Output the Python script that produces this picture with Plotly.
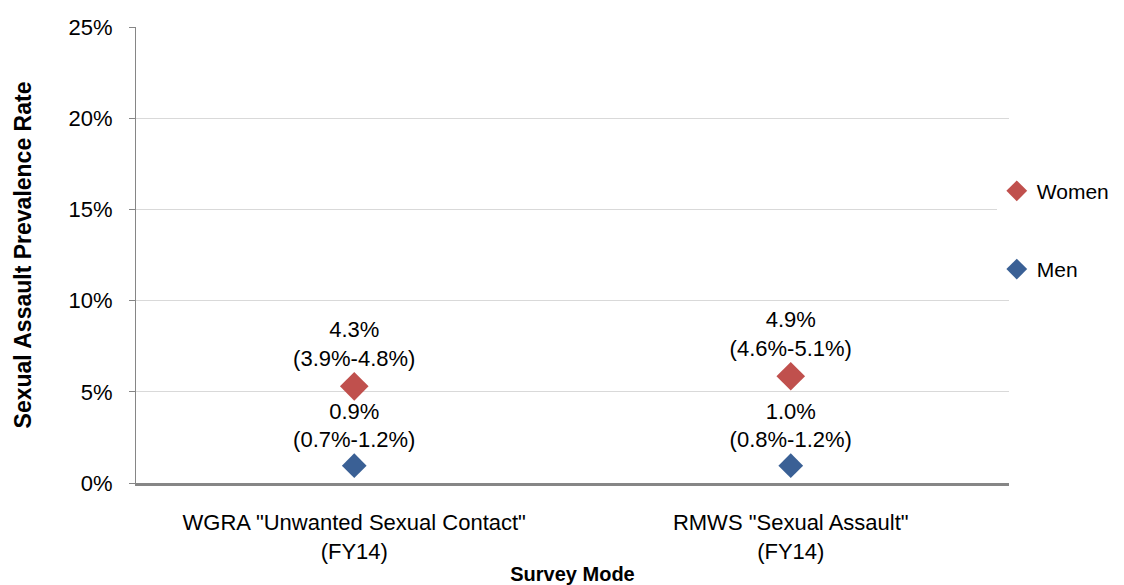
import plotly.graph_objects as go

categories = ['WGRA "Unwanted Sexual Contact"<br>(FY14)', 'RMWS "Sexual Assault"<br>(FY14)']
women_values = [5.3, 5.85]
men_values = [0.95, 0.95]
women_labels = ["4.3%<br>(3.9%-4.8%)", "4.9%<br>(4.6%-5.1%)"]
men_labels = ["0.9%<br>(0.7%-1.2%)", "1.0%<br>(0.8%-1.2%)"]
y_ticks = [0, 5, 10, 15, 20, 25]

FONT = "Liberation Sans, Arial, sans-serif"

fig = go.Figure()

fig.add_trace(go.Scatter(
    x=categories,
    y=women_values,
    mode="markers+text",
    name="Women",
    legendgroup="w",
    text=women_labels,
    textposition="top center",
    textfont=dict(size=22, color="black", family=FONT),
    marker=dict(symbol="diamond", size=22, color="#C0504D")
))

fig.add_trace(go.Scatter(
    x=categories,
    y=men_values,
    mode="markers+text",
    name="Men",
    legendgroup="m",
    text=men_labels,
    textposition="top center",
    textfont=dict(size=22, color="black", family=FONT),
    marker=dict(symbol="diamond", size=19, color="#3A6095")
))

# page body has an 8px margin, so the figure is shrunk by that amount
fig.update_layout(
    width=1116,
    height=577,
    paper_bgcolor="white",
    plot_bgcolor="white",
    font=dict(family=FONT, size=22, color="black"),
    margin=dict(l=128, r=115, t=19, b=102, autoexpand=False),
    legend=dict(
        xref="container", yref="container",
        x=0.886, y=0.615, xanchor="left", yanchor="middle",
        tracegroupgap=48,
        font=dict(size=21, family=FONT),
        itemwidth=30
    ),
    xaxis=dict(
        type="category",
        range=[-0.5, 1.5],
        automargin=False,
        showline=True,
        linecolor="#868686",
        linewidth=3,
        showgrid=False,
        ticks="",
        ticklabelstandoff=18,
        tickfont=dict(size=22),
        title=dict(text="<b>Survey Mode</b>", font=dict(size=20), standoff=0)
    ),
    yaxis=dict(
        range=[0, 25],
        automargin=False,
        tickvals=y_ticks,
        ticktext=[f"{v}%" for v in y_ticks],
        showline=True,
        linecolor="#868686",
        linewidth=1,
        ticks="outside",
        ticklen=6,
        tickcolor="#868686",
        ticklabelstandoff=12,
        showgrid=True,
        gridcolor="#d9d9d9",
        gridwidth=1,
        zeroline=False,
        tickfont=dict(size=22),
        title=dict(text="<b>Sexual Assault Prevalence Rate</b>", font=dict(size=23), standoff=30)
    )
)

fig.write_html("out.html")
